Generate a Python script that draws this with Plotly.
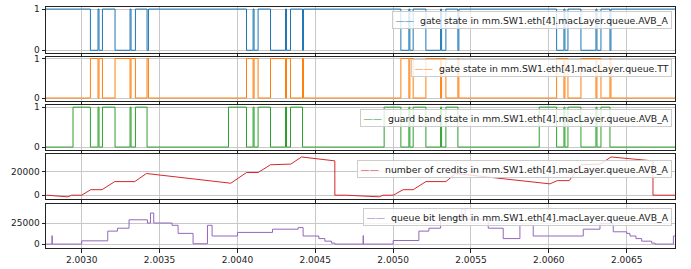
import plotly.graph_objects as go

X_RANGE = [2.0027706, 2.0068104]

# switching times of the gates (s)
gate_t = [2.0027706,
          2.0030559, 2.0031047, 2.0031112, 2.0031330, 2.0032140, 2.0033104, 2.0033168, 2.0033450, 2.0034196, 2.0034286,
          2.0040583, 2.0041007, 2.0041071, 2.0041328, 2.0042125, 2.0043089, 2.0043153, 2.0043410, 2.0044181, 2.0044245,
          2.0050497, 2.0051012, 2.0051076, 2.0051288, 2.0052104, 2.0053048, 2.0053113, 2.0053389, 2.0054160, 2.0054224,
          2.0060502, 2.0060971, 2.0061035, 2.0061228, 2.0062063, 2.0063027, 2.0063092, 2.0063349, 2.0063927, 2.0063991,
          2.0068104]
avb_gate = [1,
            0, 1, 0, 1, 0, 1, 0, 1, 0, 1,
            0, 1, 0, 1, 0, 1, 0, 1, 0, 1,
            0, 1, 0, 1, 0, 1, 0, 1, 0, 1,
            0, 1, 0, 1, 0, 1, 0, 1, 0, 1,
            1]
tt_gate = [0,
           1, 0, 1, 0, 1, 0, 1, 0, 1, 0,
           1, 0, 1, 0, 1, 0, 1, 0, 1, 0,
           1, 0, 1, 0, 1, 0, 1, 0, 1, 0,
           1, 0, 1, 0, 1, 0, 1, 0, 1, 0,
           0]

guard_t = [2.0027706,
           2.0029441, 2.0030559, 2.0031047, 2.0031112, 2.0031330, 2.0032140, 2.0033104, 2.0033168, 2.0033450, 2.0034196,
           2.0039426, 2.0040583, 2.0041007, 2.0041071, 2.0041328, 2.0042125, 2.0043089, 2.0043153, 2.0043410, 2.0044181,
           2.0049424, 2.0050497, 2.0051012, 2.0051076, 2.0051288, 2.0052104, 2.0053048, 2.0053113, 2.0053389, 2.0054160,
           2.0059384, 2.0060502, 2.0060971, 2.0061035, 2.0061228, 2.0062063, 2.0063027, 2.0063092, 2.0063349, 2.0063927,
           2.0068104]
guard_band = [0,
              1, 0, 1, 0, 1, 0, 1, 0, 1, 0,
              1, 0, 1, 0, 1, 0, 1, 0, 1, 0,
              1, 0, 1, 0, 1, 0, 1, 0, 1, 0,
              1, 0, 1, 0, 1, 0, 1, 0, 1, 0,
              0]

credit_t = [2.0027730, 2.0029120, 2.0029338, 2.0030000, 2.0030578, 2.0031304, 2.0032120, 2.0033406, 2.0034157,
            2.0039574, 2.0040583, 2.0041328, 2.0042125, 2.0043429, 2.0044117, 2.0046257, 2.0046257,
            2.0047000, 2.0049122, 2.0049341, 2.0050003, 2.0050645, 2.0051288, 2.0052104, 2.0053389, 2.0054012,
            2.0060072, 2.0060541, 2.0061312, 2.0062063, 2.0063300, 2.0064000, 2.0066690, 2.0066690, 2.0068104]
credits = [0, -1370, 0, 0, 4660, 4660, 11500, 11500, 18350,
           10130, 19180, 19180, 25750, 26300, 32330, 29040, 0,
           0, -1370, 0, 0, 4660, 4660, 11500, 11500, 18350,
           9590, 12330, 12330, 25750, 26300, 32330, 29040, 0, 0]

queue_t = [2.0027706, 2.0028092, 2.0028105, 2.0030000, 2.0031671, 2.0032294, 2.0033039, 2.0034222, 2.0034414,
           2.0034626, 2.0035802, 2.0036188, 2.0037152, 2.0038077, 2.0038373, 2.0040005, 2.0042254, 2.0043899,
           2.0044220, 2.0045229, 2.0045614, 2.0046045, 2.0046257,
           2.0048075, 2.0048090, 2.0050003, 2.0051654, 2.0052297, 2.0053048, 2.0054222, 2.0054414, 2.0054626,
           2.0056107, 2.0057071, 2.0058144, 2.0058999, 2.0062211, 2.0063285, 2.0064139, 2.0065000, 2.0065212,
           2.0065597, 2.0065964, 2.0066606, 2.0066818, 2.0068000, 2.0068104]
queue_len = [0, 10000, 0, 3850, 15400, 18850, 28850, 25000, 36900,
             25000, 22300, 12700, 400, 22300, 9600, 13850, 17700, 19600,
             9600, 6540, 3460, 1150, 0,
             10000, 0, 4230, 15400, 18850, 31000, 29500, 42000, 29500,
             18850, 6540, 22300, 9600, 17700, 24200, 14600, 12700, 9600,
             6540, 3460, 1150, 0, 9600, 9600]

names = ["gate state in mm.SW1.eth[4].macLayer.queue.AVB_A",
         "gate state in mm.SW1.eth[4].macLayer.queue.TT",
         "guard band state in mm.SW1.eth[4].macLayer.queue.AVB_A",
         "number of credits in mm.SW1.eth[4].macLayer.queue.AVB_A",
         "queue bit length in mm.SW1.eth[4].macLayer.queue.AVB_A"]
colors = ["#1f77b4", "#ff7f0e", "#2ca02c", "#d62728", "#9467bd"]

series = [(gate_t, avb_gate, "hv"), (gate_t, tt_gate, "hv"), (guard_t, guard_band, "hv"),
          (credit_t, credits, "linear"), (queue_t, queue_len, "hv")]

# pixel layout (plot area 46..675 x, 4..252 y)
H_TOP, H_BOT = 4, 252
panels_px = [(4, 51.5), (55, 100.5), (105, 151), (155, 202), (207, 252)]
y_ranges = [[-0.07, 1.05], [-0.07, 1.05], [-0.07, 1.05], [-3560, 35070], [-4650, 47280]]
y_ticks = [[0, 1], [0, 1], [0, 1], [0, 20000], [0, 25000]]
legend_top_px = [8, 58, 109, 161.5, 211]

fig = go.Figure()
layout = dict(
    width=691, height=269,
    margin=dict(l=46, r=16, t=4, b=17),
    paper_bgcolor="white", plot_bgcolor="white",
    font=dict(family="DejaVu Sans", size=9, color="#222222"),
    showlegend=False,
)
annotations = []

for i, ((tx, vy, shape), name, col) in enumerate(zip(series, names, colors)):
    n = i + 1
    xa = "x" if n == 1 else f"x{n}"
    ya = "y" if n == 1 else f"y{n}"
    fig.add_trace(go.Scatter(x=tx, y=vy, mode="lines", name=name,
                             line=dict(color=col, width=1, shape=shape),
                             xaxis=xa, yaxis=ya))
    top, bot = panels_px[i]
    dom = [(H_BOT - bot) / (H_BOT - H_TOP), (H_BOT - top) / (H_BOT - H_TOP)]
    xkey = "xaxis" if n == 1 else f"xaxis{n}"
    ykey = "yaxis" if n == 1 else f"yaxis{n}"
    xd = dict(
        range=X_RANGE, anchor=ya,
        showticklabels=(n == 5), tickformat=".4f", tick0=2.0030, dtick=0.0005,
        ticks="outside", ticklen=3.5, tickcolor="#222", tickwidth=1,
        showgrid=True, gridcolor="#c8c8c8", gridwidth=1,
        showline=True, linecolor="#222", linewidth=1, mirror=True,
        zeroline=False, tickfont=dict(size=9),
    )
    if n != 5:
        xd["matches"] = "x5"
    layout[xkey] = xd
    layout[ykey] = dict(
        domain=dom, anchor=xa, range=y_ranges[i], tickvals=y_ticks[i], tickformat="d",
        ticks="outside", ticklen=3.5, tickcolor="#222", tickwidth=1,
        showgrid=True, gridcolor="#c8c8c8", gridwidth=1,
        showline=True, linecolor="#222", linewidth=1, mirror=True,
        zeroline=False, tickfont=dict(size=9),
    )
    # legend box (matplotlib style: short line sample + label)
    annotations.append(dict(
        xref="paper", yref="paper", x=(672 - 46) / 629, xanchor="right",
        y=(H_BOT - legend_top_px[i]) / (H_BOT - H_TOP), yanchor="top",
        text=f"<span style='color:{col}'>\u2014\u2014</span>&nbsp;&nbsp;{name}",
        showarrow=False, align="left",
        font=dict(family="DejaVu Sans", size=9.3, color="#222222"),
        bgcolor="rgba(255,255,255,0.8)", bordercolor="#cccccc", borderwidth=1, borderpad=2.5,
    ))

layout["annotations"] = annotations
fig.update_layout(**layout)
fig.write_html("out.html", config={"displayModeBar": False},
               post_script="document.body.style.margin='0px';document.body.style.overflow='hidden';")
